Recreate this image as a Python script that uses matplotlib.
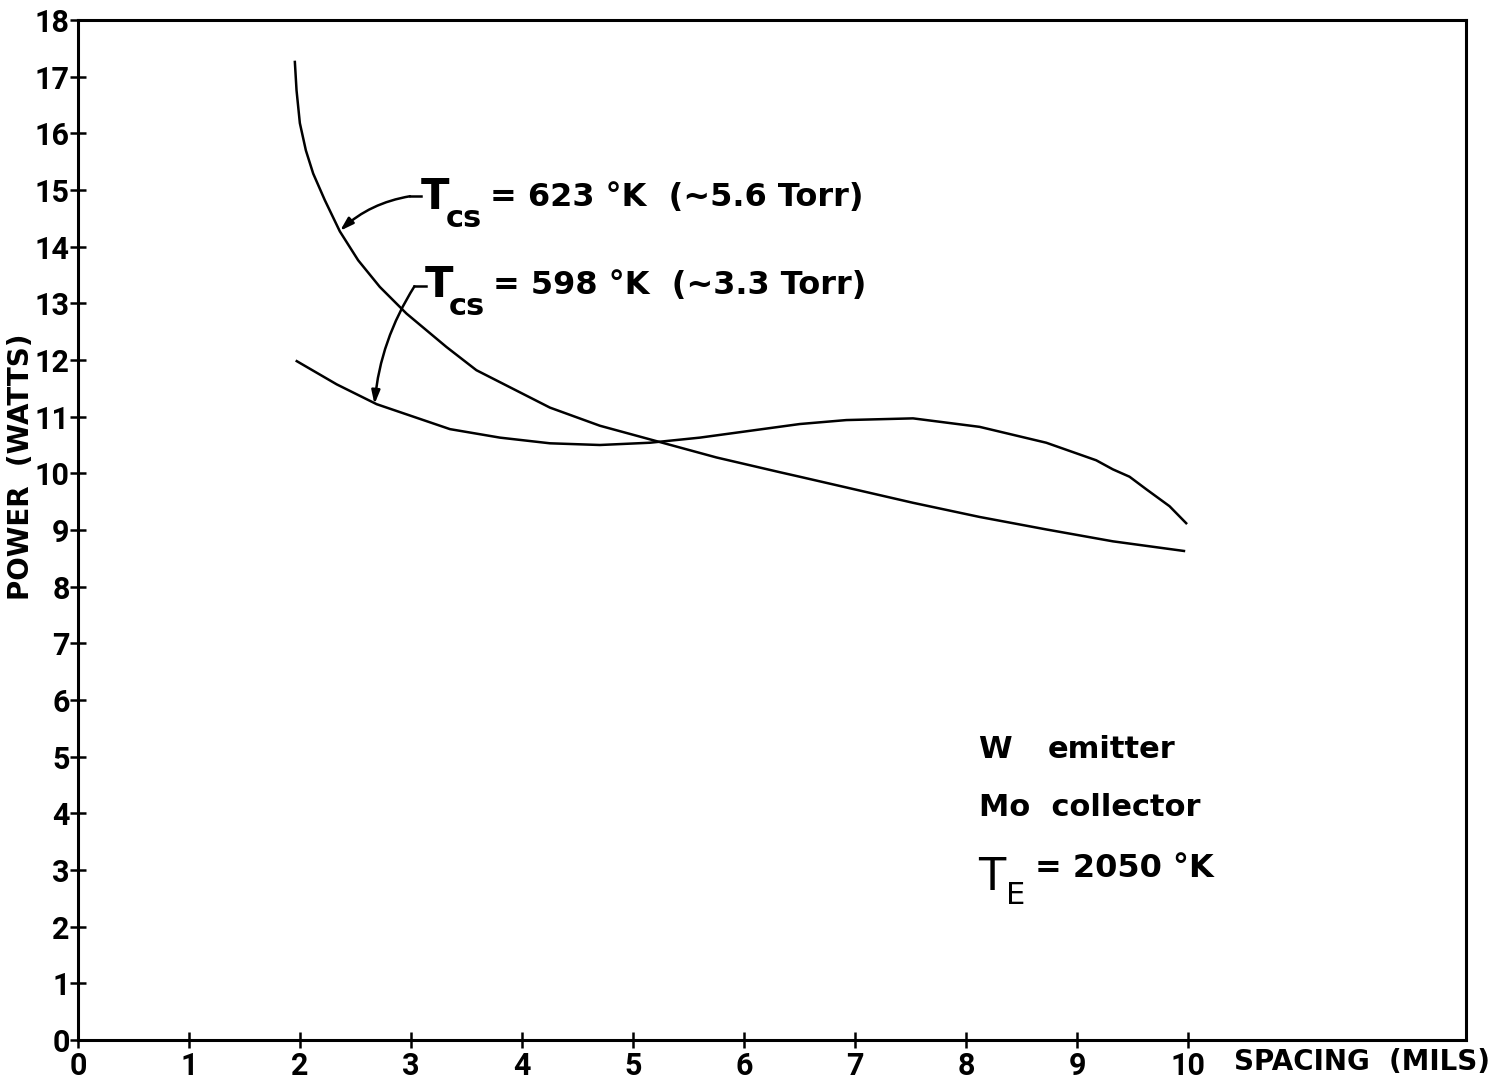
import matplotlib
matplotlib.use("Agg")
import matplotlib.pyplot as plt

plt.rcParams['font.family'] = ['Roboto', 'DejaVu Sans']

# Data
spacing_623 = [1.953, 1.968, 1.998, 2.052, 2.118, 2.223, 2.358, 2.523, 2.718, 2.958, 3.318,
               3.588, 4.25, 4.70, 5.15, 5.75, 6.32, 6.50, 7.52, 8.12, 8.72, 9.32, 9.96]
power_623 = [17.26, 16.76, 16.18, 15.70, 15.29, 14.82, 14.27, 13.76, 13.29, 12.82, 12.23,
             11.82, 11.16, 10.84, 10.60, 10.28, 10.02, 9.94, 9.48, 9.23, 9.01, 8.80, 8.63]

spacing_598 = [1.97, 2.33, 2.69, 3.35, 3.80, 4.25, 4.70, 5.15, 5.60, 6.05, 6.50,
               6.92, 7.52, 8.12, 8.42, 8.72, 9.17, 9.32, 9.47, 9.62, 9.83, 9.98]
power_598 = [11.98, 11.57, 11.22, 10.78, 10.63, 10.53, 10.50, 10.54, 10.63, 10.75, 10.87,
             10.94, 10.97, 10.82, 10.68, 10.54, 10.23, 10.07, 9.94, 9.72, 9.42, 9.12]

x_ticks = list(range(0, 11))
y_ticks = list(range(0, 19))

LBL = ['DejaVu Sans']

fig = plt.figure(figsize=(15.11, 10.81), dpi=100)
ax = fig.add_axes([78/1511, 41/1081, (1466-78)/1511, (1040-20)/1081])

ax.plot(spacing_623, power_623, color='black', lw=1.8)
ax.plot(spacing_598, power_598, color='black', lw=1.8)

ax.set_xlim(0, 12.5)
ax.set_ylim(0, 18)
ax.set_xticks(x_ticks)
ax.set_yticks(y_ticks)
ax.set_xticklabels([str(v) for v in x_ticks], fontsize=22, fontweight='bold')
ax.set_yticklabels([str(v) for v in y_ticks], fontsize=22, fontweight='bold')
ax.tick_params(axis='both', direction='inout', length=12, width=1.8)
ax.tick_params(axis='x', pad=2)
ax.tick_params(axis='y', pad=0)
for s in ax.spines.values():
    s.set_linewidth(2.2)

# Axis labels
ax.text(-0.041, 0.562, 'POWER  (WATTS)', transform=ax.transAxes, rotation=90,
        ha='center', va='center', fontsize=20, fontweight='bold', family=LBL)
ax.text(0.925, -0.022, 'SPACING  (MILS)', transform=ax.transAxes,
        ha='center', va='center', fontsize=20, fontweight='bold', family=LBL)

# Curve labels
def tcs_label(x, y, rest):
    ax.text(x, y, 'T', fontsize=30, fontweight='bold', ha='left', va='baseline', family=LBL)
    ax.text(x + 0.22, y - 0.32, 'cs', fontsize=22, fontweight='bold', ha='left', va='baseline', family=LBL)
    ax.text(x + 0.62, y + 0.05, rest, fontsize=23, fontweight='bold', ha='left', va='baseline', family=LBL)

tcs_label(3.09, 14.66, '= 623 °K  (~5.6 Torr)')
tcs_label(3.12, 13.11, '= 598 °K  (~3.3 Torr)')

# Leader stubs and arrows
ax.plot([2.99, 3.09], [14.89, 14.89], color='black', lw=1.8)
ax.annotate('', xy=(2.36, 14.28), xytext=(2.99, 14.89),
            arrowprops=dict(arrowstyle='-|>,head_length=0.8,head_width=0.25', color='black',
                            lw=1.8, connectionstyle='arc3,rad=0.15', shrinkA=0, shrinkB=0))
ax.plot([3.03, 3.13], [13.30, 13.30], color='black', lw=1.8)
ax.annotate('', xy=(2.67, 11.22), xytext=(3.03, 13.30),
            arrowprops=dict(arrowstyle='-|>,head_length=0.8,head_width=0.25', color='black',
                            lw=1.8, connectionstyle='arc3,rad=0.12', shrinkA=0, shrinkB=0))

# Condition notes
ax.text(8.11, 4.98, 'W', fontsize=22, fontweight='bold', ha='left', va='baseline', family=LBL)
ax.text(8.73, 4.98, 'emitter', fontsize=22, fontweight='bold', ha='left', va='baseline', family=LBL)
ax.text(8.11, 3.96, 'Mo  collector', fontsize=22, fontweight='bold', ha='left', va='baseline', family=LBL)
ax.text(8.11, 2.65, 'T', fontsize=32, fontweight='normal', ha='left', va='baseline', family=LBL)
ax.text(8.36, 2.40, 'E', fontsize=22, fontweight='normal', ha='left', va='baseline', family=LBL)
ax.text(8.62, 2.88, '= 2050 °K', fontsize=23, fontweight='bold', ha='left', va='baseline', family=LBL)

fig.savefig('out.png', dpi=100, facecolor='white')
